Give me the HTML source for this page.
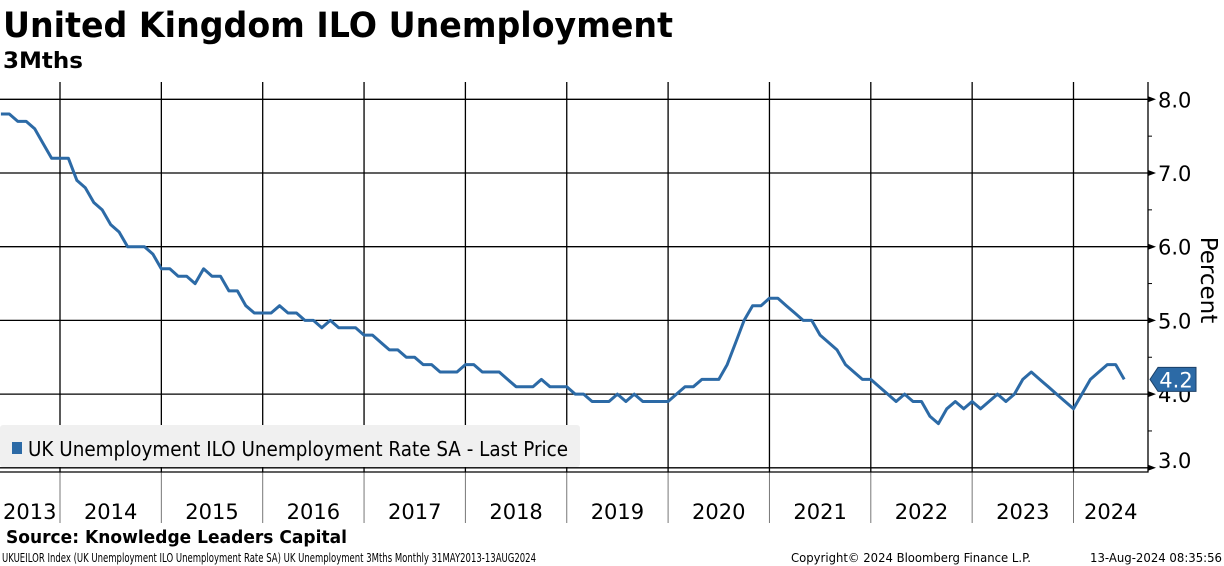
<!DOCTYPE html>
<html><head><meta charset="utf-8"><style>
html,body{margin:0;padding:0;background:#fff;}
svg{display:block;font-family:"DejaVu Sans","Liberation Sans",sans-serif;}
</style></head><body>
<svg id="chart" width="1224" height="566" viewBox="0 0 1224 566" xmlns="http://www.w3.org/2000/svg">
<text x="3" y="37" font-size="35" font-weight="bold" textLength="670" lengthAdjust="spacingAndGlyphs">United Kingdom ILO Unemployment</text>
<text x="3" y="68" font-size="22" font-weight="bold" textLength="80" lengthAdjust="spacingAndGlyphs">3Mths</text>
<g id="grid"></g>
<g id="axes"></g>
<path id="line" fill="none" stroke="#2c6aa6" stroke-width="3" stroke-linejoin="round"></path>
<g>
<rect x="0" y="425" width="580" height="42" rx="3" fill="#f0f0f0"/>
<rect x="12" y="442" width="10" height="12" fill="#2c6aa6"/>
<text x="28" y="456" font-size="20" textLength="540" lengthAdjust="spacingAndGlyphs">UK Unemployment ILO Unemployment Rate SA - Last Price</text>
</g>
<g id="lastlabel"></g>
<text transform="translate(1201,280) rotate(90)" font-size="23" text-anchor="middle">Percent</text>
<text x="6" y="543" font-size="18" font-weight="bold" textLength="341" lengthAdjust="spacingAndGlyphs">Source: Knowledge Leaders Capital</text>
<text x="2" y="562" font-size="12" textLength="534" lengthAdjust="spacingAndGlyphs">UKUEILOR Index (UK Unemployment ILO Unemployment Rate SA) UK Unemployment 3Mths  Monthly 31MAY2013-13AUG2024</text>
<text x="791" y="562" font-size="12" textLength="240" lengthAdjust="spacingAndGlyphs">Copyright© 2024 Bloomberg Finance L.P.</text>
<text x="1090" y="562" font-size="12" textLength="132" lengthAdjust="spacingAndGlyphs">13-Aug-2024 08:35:56</text>
</svg>
<script>
const startYear = 2013, startMonth = 5; // May 2013
const values = [
7.8,7.8,7.7,7.7,7.6,7.4,7.2,7.2,
7.2,6.9,6.8,6.6,6.5,6.3,6.2,6.0,6.0,6.0,5.9,5.7,
5.7,5.6,5.6,5.5,5.7,5.6,5.6,5.4,5.4,5.2,5.1,5.1,
5.1,5.2,5.1,5.1,5.0,5.0,4.9,5.0,4.9,4.9,4.9,4.8,
4.8,4.7,4.6,4.6,4.5,4.5,4.4,4.4,4.3,4.3,4.3,4.4,
4.4,4.3,4.3,4.3,4.2,4.1,4.1,4.1,4.2,4.1,4.1,4.1,
4.0,4.0,3.9,3.9,3.9,4.0,3.9,4.0,3.9,3.9,3.9,3.9,
4.0,4.1,4.1,4.2,4.2,4.2,4.4,4.7,5.0,5.2,5.2,5.3,
5.3,5.2,5.1,5.0,5.0,4.8,4.7,4.6,4.4,4.3,4.2,4.2,
4.1,4.0,3.9,4.0,3.9,3.9,3.7,3.6,3.8,3.9,3.8,3.9,
3.8,3.9,4.0,3.9,4.0,4.2,4.3,4.2,4.1,4.0,3.9,3.8,
4.0,4.2,4.3,4.4,4.4,4.2];
const yearLabels = ["2013","2014","2015","2016","2017","2018","2019","2020","2021","2022","2023","2024"];
const yTicks = [3,4,5,6,7,8];
const yTickLabels = ["3.0","4.0","5.0","6.0","7.0","8.0"];

const NS = "http://www.w3.org/2000/svg";
const plotL = 0, plotR = 1148, plotT = 82, plotB = 472;
const x2014 = 60, pxPerYear = 101.35;
function xOfYear(y){ return x2014 + (y - 2014) * pxPerYear; }
function xOfIndex(i){ const m = startMonth + i; return xOfYear(startYear + m / 12); } // month-end
function yOf(v){ return 467.8 - (v - 3) * 73.7; }
function mk(tag, attrs, parent){ const e = document.createElementNS(NS, tag); for (const k in attrs) e.setAttribute(k, attrs[k]); parent.appendChild(e); return e; }

const grid = document.getElementById('grid'), axes = document.getElementById('axes');
yTicks.forEach((t, i) => {
  const y = yOf(t);
  const gl = mk('line', {x1: plotL, x2: plotR, y1: y, y2: y, stroke: '#000', 'stroke-width': 1.3}, grid);
  
  
  const ar = mk('path', {d: `M${plotR},${y-3}L${plotR+8},${y}L${plotR},${y+3}Z`, fill: '#000'}, axes);
  
  
  const tl = mk('text', {x: plotR + 10, y: (t === 3 ? y - 0 : y + 8), 'font-size': 21}, axes);
  tl.textContent = yTickLabels[i];
  
  
  if (t < 8) {
    const ym = yOf(t + 0.5);
    const mt = mk('line', {x1: plotR, x2: plotR + 4, y1: ym, y2: ym, stroke: '#000', 'stroke-width': 1}, axes);
    
    
  }
});
yearLabels.forEach((lab, i) => {
  const yr = +lab;
  const x = xOfYear(yr);
  if (x > plotL + 2) {
    const vl = mk('line', {x1: x, x2: x, y1: plotT, y2: plotB, stroke: '#000', 'stroke-width': 1.3}, grid);
    
    
    const tk = mk('line', {x1: x, x2: x, y1: plotB, y2: 523, stroke: '#777', 'stroke-width': 1}, axes);
    
    
  }
  const a = Math.max(xOfYear(yr), 0), b = Math.min(xOfYear(yr + 1), plotR);
  const tx = mk('text', {x: yr === 2013 ? 3 : (a + b) / 2, y: 519, 'font-size': 21, 'text-anchor': yr === 2013 ? 'start' : 'middle'}, axes);
  tx.textContent = lab;
  
  
});
const frame = mk('path', {d: `M${plotR},${plotT}V${plotB}H${plotL}`, fill: 'none', stroke: '#000', 'stroke-width': 1.3}, axes);



document.getElementById('line').setAttribute('d', values.map((v, i) => (i ? 'L' : 'M') + xOfIndex(i).toFixed(1) + ',' + yOf(v).toFixed(1)).join(''));

const last = values[values.length - 1], ly = yOf(last);
const ll = document.getElementById('lastlabel');
const box = mk('path', {d: `M1150,${ly}L1158,${ly-12}H1196V${ly+12}H1158Z`, fill: '#2c6aa6', stroke: '#1a3f66', 'stroke-width': 1}, ll);


const lt = mk('text', {x: 1176, y: ly + 8, 'font-size': 21, fill: '#fff', 'text-anchor': 'middle'}, ll);
lt.textContent = last.toFixed(1);


</script>
</body></html>
